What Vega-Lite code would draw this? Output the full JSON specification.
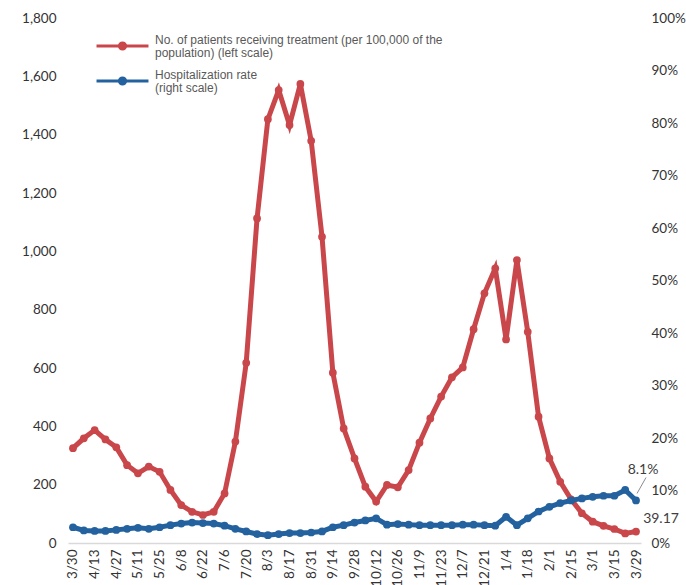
{
  "$schema": "https://vega.github.io/schema/vega-lite/v6.json",
  "width": 573,
  "height": 525,
  "autosize": {"type": "none"},
  "padding": {"left": 68, "top": 18, "right": 45, "bottom": 42},
  "background": "white",
  "config": {"view": {"stroke": null}, "font": "Lato"},
  "data": {"values": [
    {"week": "3/30", "patients": 325, "rate": 0.030},
    {"week": "4/6", "patients": 359, "rate": 0.024},
    {"week": "4/13", "patients": 387, "rate": 0.023},
    {"week": "4/20", "patients": 355, "rate": 0.023},
    {"week": "4/27", "patients": 328, "rate": 0.025},
    {"week": "5/4", "patients": 267, "rate": 0.027},
    {"week": "5/11", "patients": 239, "rate": 0.029},
    {"week": "5/18", "patients": 262, "rate": 0.027},
    {"week": "5/25", "patients": 244, "rate": 0.030},
    {"week": "6/1", "patients": 182, "rate": 0.034},
    {"week": "6/8", "patients": 130, "rate": 0.037},
    {"week": "6/15", "patients": 107, "rate": 0.039},
    {"week": "6/22", "patients": 96, "rate": 0.038},
    {"week": "6/29", "patients": 107, "rate": 0.037},
    {"week": "7/6", "patients": 170, "rate": 0.033},
    {"week": "7/13", "patients": 348, "rate": 0.027},
    {"week": "7/20", "patients": 618, "rate": 0.022},
    {"week": "7/27", "patients": 1113, "rate": 0.017},
    {"week": "8/3", "patients": 1453, "rate": 0.015},
    {"week": "8/10", "patients": 1553, "rate": 0.017},
    {"week": "8/17", "patients": 1433, "rate": 0.019},
    {"week": "8/24", "patients": 1574, "rate": 0.019},
    {"week": "8/31", "patients": 1379, "rate": 0.020},
    {"week": "9/7", "patients": 1050, "rate": 0.022},
    {"week": "9/14", "patients": 584, "rate": 0.030},
    {"week": "9/21", "patients": 393, "rate": 0.034},
    {"week": "9/28", "patients": 290, "rate": 0.039},
    {"week": "10/5", "patients": 193, "rate": 0.043},
    {"week": "10/12", "patients": 142, "rate": 0.047},
    {"week": "10/19", "patients": 199, "rate": 0.035},
    {"week": "10/26", "patients": 191, "rate": 0.036},
    {"week": "11/2", "patients": 250, "rate": 0.035},
    {"week": "11/9", "patients": 344, "rate": 0.034},
    {"week": "11/16", "patients": 427, "rate": 0.034},
    {"week": "11/23", "patients": 502, "rate": 0.034},
    {"week": "11/30", "patients": 568, "rate": 0.034},
    {"week": "12/7", "patients": 602, "rate": 0.035},
    {"week": "12/14", "patients": 733, "rate": 0.035},
    {"week": "12/21", "patients": 856, "rate": 0.034},
    {"week": "12/28", "patients": 942, "rate": 0.033},
    {"week": "1/4", "patients": 698, "rate": 0.050},
    {"week": "1/11", "patients": 970, "rate": 0.034},
    {"week": "1/18", "patients": 724, "rate": 0.047},
    {"week": "1/25", "patients": 433, "rate": 0.060},
    {"week": "2/1", "patients": 290, "rate": 0.069},
    {"week": "2/8", "patients": 210, "rate": 0.076},
    {"week": "2/15", "patients": 150, "rate": 0.081},
    {"week": "2/22", "patients": 102, "rate": 0.085},
    {"week": "3/1", "patients": 73, "rate": 0.088},
    {"week": "3/8", "patients": 59, "rate": 0.090},
    {"week": "3/15", "patients": 48, "rate": 0.090},
    {"week": "3/22", "patients": 33, "rate": 0.101},
    {"week": "3/29", "patients": 39.17, "rate": 0.081}
  ]},
  "encoding": {
    "x": {
      "field": "week",
      "type": "ordinal",
      "sort": null,
      "scale": {"type": "point", "padding": 0.46},
      "axis": {
        "title": null,
        "values": ["3/30","4/13","4/27","5/11","5/25","6/8","6/22","7/6","7/20","8/3","8/17","8/31","9/14","9/28","10/12","10/26","11/9","11/23","12/7","12/21","1/4","1/18","2/1","2/15","3/1","3/15","3/29"],
        "labelAngle": -90,
        "labelFontSize": 13.5,
        "labelColor": "#333333",
        "labelPadding": 6,
        "ticks": false,
        "grid": false,
        "domainColor": "#d9d9d9",
        "domainWidth": 1.5
      }
    }
  },
  "layer": [
    {
      "encoding": {
        "y": {
          "field": "patients",
          "type": "quantitative",
          "scale": {"domain": [0, 1800]},
          "axis": {
            "title": null,
            "orient": "left",
            "values": [0,200,400,600,800,1000,1200,1400,1600,1800],
            "format": ",.0f",
            "domain": false,
            "ticks": false,
            "grid": false,
            "labelPadding": 12,
            "labelFontSize": 13.5,
            "labelColor": "#333333"
          }
        }
      },
      "layer": [
        {
          "mark": {"type": "line", "strokeWidth": 5, "point": {"filled": true, "size": 60}},
          "encoding": {
            "color": {
              "datum": "No. of patients receiving treatment (per 100,000 of the population) (left scale)",
              "scale": {
                "domain": ["No. of patients receiving treatment (per 100,000 of the population) (left scale)", "Hospitalization rate (right scale)"],
                "range": ["#C9474A", "#23629F"]
              },
              "legend": {
                "orient": "none",
                "legendX": 44,
                "legendY": 17.5,
                "title": null,
                "padding": 0,
                "symbolType": "M-3,0H3M-0.36,0A0.36,0.36,0,1,0,0.36,0A0.36,0.36,0,1,0,-0.36,0Z",
                "symbolSize": 300,
                "symbolStrokeWidth": 3,
                "labelFont": "Liberation Sans",
                "labelFontSize": 12,
                "labelColor": "#595959",
                "labelLimit": 0,
                "labelOffset": 22,
                "rowPadding": 9,
                "labelExpr": "indexof(datum.label, 'No.') == 0 ? ['No. of patients receiving treatment (per 100,000 of the', 'population) (left scale)'] : ['Hospitalization rate', '(right scale)']",
                "encode": {
                  "symbols": {"update": {"fill": {"scale": "color", "field": "value"}, "stroke": {"scale": "color", "field": "value"}}},
                  "labels": {"update": {"lineHeight": {"value": 13.5}, "dy": {"value": -6.5}}}
                }
              }
            }
          }
        },
        {
          "transform": [{"filter": "datum.week == '3/29'"}],
          "mark": {"type": "text", "dx": 25, "dy": -13, "fontSize": 14, "color": "#404040", "align": "center", "baseline": "middle"},
          "encoding": {"text": {"field": "patients", "type": "quantitative", "format": ".2f"}}
        }
      ]
    },
    {
      "encoding": {
        "y": {
          "field": "rate",
          "type": "quantitative",
          "scale": {"domain": [0, 1]},
          "axis": {
            "title": null,
            "orient": "right",
            "values": [0,0.1,0.2,0.3,0.4,0.5,0.6,0.7,0.8,0.9,1],
            "format": ".0%",
            "domain": false,
            "ticks": false,
            "grid": false,
            "labelPadding": 10,
            "labelFontSize": 13.5,
            "labelColor": "#333333"
          }
        }
      },
      "layer": [
        {
          "mark": {"type": "line", "strokeWidth": 5, "point": {"filled": true, "size": 60}},
          "encoding": {
            "color": {"datum": "Hospitalization rate (right scale)"}
          }
        },
        {
          "transform": [{"filter": "datum.week == '3/29'"}],
          "mark": {"type": "rule", "color": "#8c8c8c", "strokeWidth": 1, "xOffset": 1, "yOffset": -7, "x2Offset": 10, "y2Offset": -23},
          "encoding": {"x2": {"field": "week"}, "y2": {"field": "rate"}}
        },
        {
          "transform": [{"filter": "datum.week == '3/29'"}],
          "mark": {"type": "text", "dx": 7, "dy": -30, "fontSize": 14, "color": "#404040", "align": "center", "baseline": "middle"},
          "encoding": {"text": {"field": "rate", "type": "quantitative", "format": ".1%"}}
        }
      ]
    }
  ],
  "resolve": {"scale": {"y": "independent"}}
}
